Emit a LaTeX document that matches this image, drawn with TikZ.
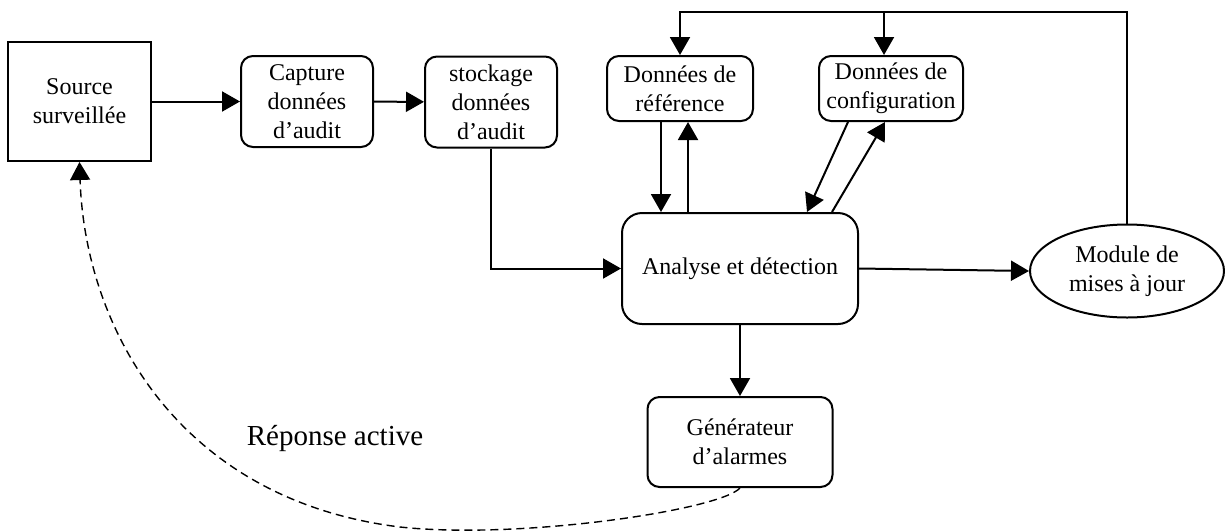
\documentclass[tikz,border=0pt]{standalone}
\usepackage{fontspec}
\setmainfont{Liberation Serif}
\usetikzlibrary{arrows.meta,shapes.geometric}

\begin{document}
\begin{tikzpicture}[x=0.5pt,y=-0.5pt,
    font=\fontsize{12}{14.5}\selectfont,
    box/.style={draw,line width=1pt,align=center,inner sep=1pt},
    rbox/.style={box,rounded corners=6pt},
    fleche/.style={line width=1pt,-{Triangle[length=9pt,width=10pt]}},
    reponse/.style={line width=0.7pt,dash pattern=on 4pt off 2.5pt,-{Triangle[length=9pt,width=10pt]}}]
    \useasboundingbox (0,0) rectangle (1225,531);
    % boites
    \node[box,minimum width=71.5pt,minimum height=59.5pt] (src) at (79.5,101.5) {Source\\surveillée};
    \node[rbox,minimum width=66pt,minimum height=45.5pt] (capture) at (307,101.5) {Capture\\données\\d’audit};
    \node[rbox,minimum width=66pt,minimum height=45.5pt] (stockage) at (491,102) {stockage\\données\\d’audit};
    \node[rbox,minimum width=73pt,minimum height=32.5pt] (ref) at (680,88.5) {Données de\\référence};
    \node[rbox,minimum width=72pt,minimum height=32.5pt] (conf) at (891,88.5) {Données de\\configuration};
    \node[rbox,rounded corners=10pt,minimum width=118pt,minimum height=55.5pt] (ana) at (740,268.5) {Analyse et détection};
    \node[draw,ellipse,line width=1pt,inner sep=0pt,align=center,minimum width=97pt,minimum height=46.5pt] (mod) at (1127,271) {Module de\\mises à jour};
    \node[rbox,minimum width=92.5pt,minimum height=45pt] (gen) at (740,442) {Générateur\\d’alarmes};
    \node[font=\fontsize{14.5}{17}\selectfont] (rep) at (335,438) {Réponse active};
    \coordinate (topr) at (1127,12);
    \coordinate (topc) at (884,12);
    % connexions
    \draw[fleche] (src) -- (capture);
    \draw[fleche] (capture) -- (stockage);
    \draw[fleche] (stockage.south) |- (ana.west);
    \draw[fleche] (ana.east) -- (mod.west);
    \draw[fleche] (ana.south) -- (gen.north);
    \draw[fleche] (mod.north) -- (topr) -| (ref.north);
    \draw[fleche] (topc) -- (topc |- conf.north);
    \draw[fleche] ([xshift=-9.5pt]ref.south) -- ([xshift=-9.5pt]ref.south |- ana.north);
    \draw[fleche] ([xshift=4pt]ref.south |- ana.north) -- ([xshift=4pt]ref.south);
    \draw[fleche] ([xshift=-21.5pt]conf.south) -- ([xshift=33.5pt]ana.north);
    \draw[fleche] ([xshift=46pt]ana.north) -- ([xshift=-3pt]conf.south);
    \draw[reponse] (gen.south) .. controls (720,510) and (520,540) .. (400,527)
        .. controls (180,500) and (85,330) .. (src.south);
\end{tikzpicture}
\end{document}
